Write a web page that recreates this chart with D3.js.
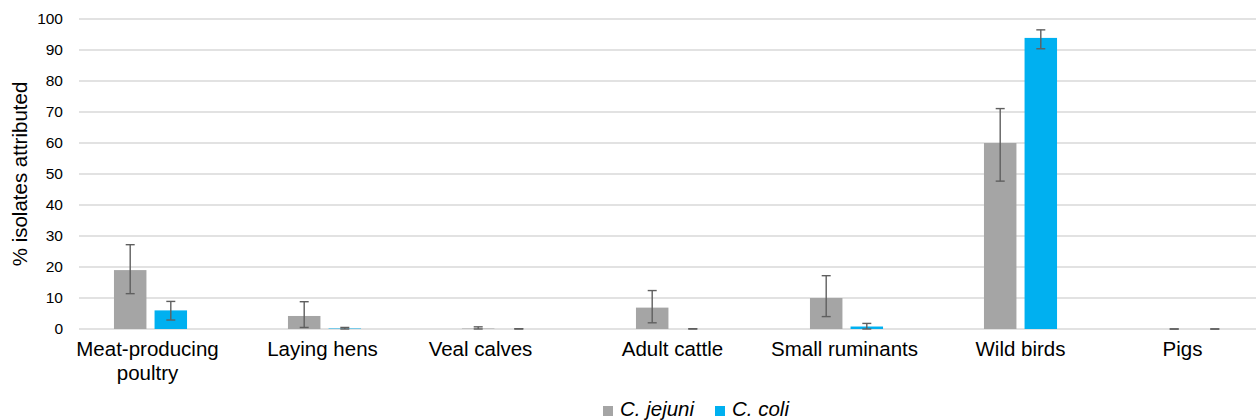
<!DOCTYPE html>
<html>
<head>
<meta charset="utf-8">
<script src="https://cdn.jsdelivr.net/npm/d3@7"></script>
<style>
  body { margin: 0; background: #fff; }
  svg { display: block; font-family: "Liberation Sans", Arial, sans-serif; }
</style>
</head>
<body>
<script>
// data
const categories = ["Meat-producing poultry", "Laying hens", "Veal calves", "Adult cattle", "Small ruminants", "Wild birds", "Pigs"];
const seriesNames = ["C. jejuni", "C. coli"];
const jejuni     = [19,   4.2, 0.15, 6.9,  10,   60,   0];
const jejuniLow  = [11.4, 0.5, 0,    2.0,  4.0,  47.7, 0];
const jejuniHigh = [27.2, 8.8, 0.7,  12.4, 17.2, 71.1, 0];
const coli       = [6,    0.15, 0,   0,    0.8,  93.9, 0];
const coliLow    = [2.9,  0,   0,    0,    0,    90.4, 0];
const coliHigh   = [8.9,  0.5, 0.1,  0.1,  1.8,  96.5, 0];
const yTicks = [0, 10, 20, 30, 40, 50, 60, 70, 80, 90, 100];

// constants
const width = 1256;
const height = 420;
const colors = ["#A5A5A5", "#00B0F0"];
const gridLeft = 79;

const svg = d3.select("body").append("svg")
    .attr("width", width).attr("height", height);

const x0 = d3.scaleBand()
    .domain(categories)
    .range([63.5, 1281.5])
    .paddingInner(0.58)
    .paddingOuter(0.29);

const x1 = d3.scaleBand()
    .domain(seriesNames)
    .range([0, x0.bandwidth()])
    .paddingInner(0.2);

const y = d3.scaleLinear().domain([0, 100]).range([329, 19]);

// grid
svg.append("g").selectAll("line").data(yTicks).enter().append("line")
   .attr("x1", gridLeft).attr("x2", width)
   .attr("y1", d => y(d)).attr("y2", d => y(d))
   .attr("stroke", "#D9D9D9").attr("stroke-width", 1.4);

// y axis labels
const yAxis = svg.append("g")
   .attr("transform", `translate(${gridLeft}, 0)`)
   .call(d3.axisLeft(y).tickValues(yTicks).tickSize(0).tickPadding(16));
yAxis.select(".domain").remove();
yAxis.selectAll("text")
   .attr("font-size", "15.5px").attr("fill", "#000")
   .attr("font-family", "'Liberation Sans', Arial, sans-serif");

svg.append("text")
   .attr("transform", `translate(27, 174) rotate(-90)`)
   .attr("text-anchor", "middle")
   .attr("font-size", "20.5px")
   .text("% isolates attributed");

// rows
const rows = categories.map((c, i) => ({
  cat: c,
  vals: [
    { s: seriesNames[0], v: jejuni[i], lo: jejuniLow[i], hi: jejuniHigh[i] },
    { s: seriesNames[1], v: coli[i], lo: coliLow[i], hi: coliHigh[i] }
  ]
}));

const groups = svg.append("g").selectAll("g").data(rows).enter().append("g")
   .attr("transform", d => `translate(${x0(d.cat)}, 0)`);

groups.selectAll("rect").data(d => d.vals).enter().append("rect")
   .attr("x", d => x1(d.s))
   .attr("width", x1.bandwidth())
   .attr("y", d => y(d.v))
   .attr("height", d => y(0) - y(d.v))
   .attr("fill", (d, i) => colors[i]);

// error bars
const capW = 9;
const err = groups.selectAll("g.err").data(d => d.vals).enter().append("g")
   .attr("class", "err")
   .attr("stroke", "#5F5F5F").attr("stroke-width", 1.4);
err.append("line")
   .attr("x1", d => x1(d.s) + x1.bandwidth() / 2)
   .attr("x2", d => x1(d.s) + x1.bandwidth() / 2)
   .attr("y1", d => y(d.lo)).attr("y2", d => y(d.hi));
err.append("line")
   .attr("x1", d => x1(d.s) + x1.bandwidth() / 2 - capW / 2)
   .attr("x2", d => x1(d.s) + x1.bandwidth() / 2 + capW / 2)
   .attr("y1", d => y(d.hi)).attr("y2", d => y(d.hi));
err.append("line")
   .attr("x1", d => x1(d.s) + x1.bandwidth() / 2 - capW / 2)
   .attr("x2", d => x1(d.s) + x1.bandwidth() / 2 + capW / 2)
   .attr("y1", d => y(d.lo)).attr("y2", d => y(d.lo));

// category labels (Excel nudges a couple of them a bit left)
const labelLines = {
  "Meat-producing poultry": ["Meat-producing", "poultry"]
};
const labelShift = { "Meat-producing poultry": -3, "Laying hens": -2, "Veal calves": -18, "Small ruminants": -2, "Pigs": -12 };
const labX = d => x0(d) + x0.bandwidth() / 2 + (labelShift[d] || 0);
const lab = svg.append("g").selectAll("text").data(categories).enter().append("text")
   .attr("x", labX)
   .attr("y", 356)
   .attr("text-anchor", "middle")
   .attr("font-size", "20.5px")
   .attr("fill", "#000");
lab.each(function(d) {
  const lines = labelLines[d] || [d];
  const t = d3.select(this);
  lines.forEach((l, i) => {
    t.append("tspan")
     .attr("x", labX(d))
     .attr("dy", i === 0 ? 0 : 24)
     .text(l);
  });
});

// legend
const legendX = [603, 715];
const leg = svg.append("g").selectAll("g").data(seriesNames).enter().append("g")
   .attr("transform", (d, i) => `translate(${legendX[i]}, 406)`);
leg.append("rect").attr("width", 10).attr("height", 10)
   .attr("fill", (d, i) => colors[i]);
leg.append("text").attr("x", 17).attr("y", 10)
   .attr("font-size", "20.5px").attr("font-style", "italic")
   .text(d => d);
</script>
</body>
</html>
